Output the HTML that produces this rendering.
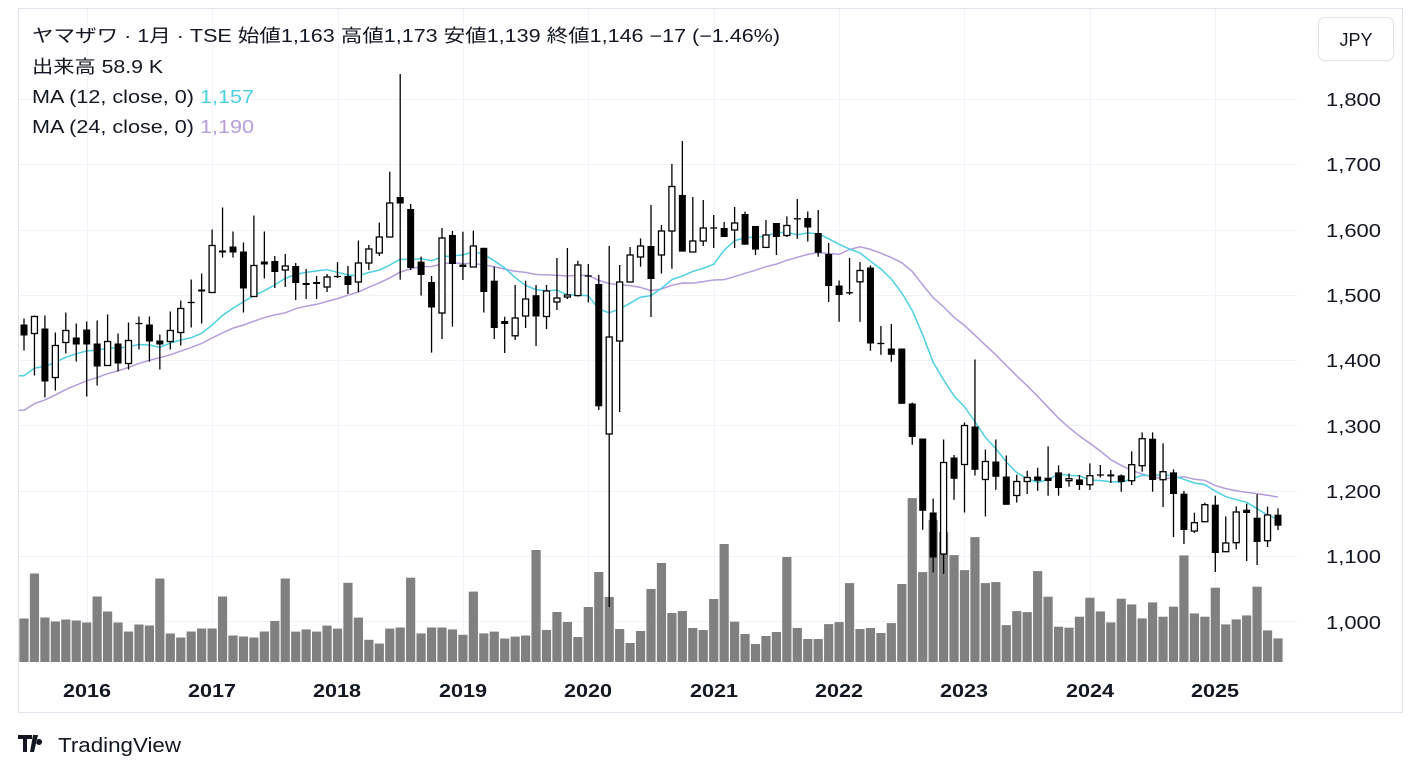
<!DOCTYPE html>
<html><head><meta charset="utf-8"><style>
body{margin:0;background:#fff;width:1420px;height:774px;overflow:hidden;font-family:"Liberation Sans","Noto Sans CJK JP",sans-serif;}
svg{position:absolute;left:0;top:0}
.t{font-family:"Liberation Sans","Noto Sans CJK JP",sans-serif;fill:#131722;white-space:pre}
</style></head><body>
<svg id="s" width="1420" height="774" viewBox="0 0 1420 774" xmlns="http://www.w3.org/2000/svg">
<rect x="18.5" y="8.5" width="1384" height="704" fill="#fff" stroke="#e0e3eb"/>
<g id="grid" stroke="#f0f3fa" stroke-width="1"></g>
<g id="vol"></g>
<g id="ma"></g>
<g id="cd"></g>
<g class="t" font-size="18" text-anchor="end" lengthAdjust="spacingAndGlyphs">
<text x="1381" y="106" textLength="55" lengthAdjust="spacingAndGlyphs">1,800</text><text x="1381" y="171" textLength="55" lengthAdjust="spacingAndGlyphs">1,700</text><text x="1381" y="237" textLength="55" lengthAdjust="spacingAndGlyphs">1,600</text><text x="1381" y="302" textLength="55" lengthAdjust="spacingAndGlyphs">1,500</text><text x="1381" y="367" textLength="55" lengthAdjust="spacingAndGlyphs">1,400</text><text x="1381" y="433" textLength="55" lengthAdjust="spacingAndGlyphs">1,300</text><text x="1381" y="498" textLength="55" lengthAdjust="spacingAndGlyphs">1,200</text><text x="1381" y="563" textLength="55" lengthAdjust="spacingAndGlyphs">1,100</text><text x="1381" y="629" textLength="55" lengthAdjust="spacingAndGlyphs">1,000</text>
</g>
<g class="t" font-size="18" font-weight="bold" text-anchor="middle">
<text x="87" y="697" textLength="48" lengthAdjust="spacingAndGlyphs">2016</text><text x="212" y="697" textLength="48" lengthAdjust="spacingAndGlyphs">2017</text><text x="337" y="697" textLength="48" lengthAdjust="spacingAndGlyphs">2018</text><text x="463" y="697" textLength="48" lengthAdjust="spacingAndGlyphs">2019</text><text x="588" y="697" textLength="48" lengthAdjust="spacingAndGlyphs">2020</text><text x="714" y="697" textLength="48" lengthAdjust="spacingAndGlyphs">2021</text><text x="839" y="697" textLength="48" lengthAdjust="spacingAndGlyphs">2022</text><text x="964" y="697" textLength="48" lengthAdjust="spacingAndGlyphs">2023</text><text x="1090" y="697" textLength="48" lengthAdjust="spacingAndGlyphs">2024</text><text x="1215" y="697" textLength="48" lengthAdjust="spacingAndGlyphs">2025</text>
</g>
<rect x="1318.5" y="17.5" width="75" height="43" rx="6" fill="#fff" stroke="#e0e3eb"/>
<text class="t" x="1356" y="46" font-size="18" text-anchor="middle">JPY</text>
<g class="t" font-size="18">
<text x="32" y="42" textLength="748" lengthAdjust="spacingAndGlyphs">ヤマザワ · 1月 · TSE  始値1,163  高値1,173  安値1,139  終値1,146  −17 (−1.46%)</text>
<text x="32" y="73" textLength="131" lengthAdjust="spacingAndGlyphs">出来高  58.9 K</text>
<text x="32" y="103" textLength="222" lengthAdjust="spacingAndGlyphs">MA (12, close, 0)  <tspan fill="#4dd0e1">1,157</tspan></text>
<text x="32" y="133" textLength="222" lengthAdjust="spacingAndGlyphs">MA (24, close, 0)  <tspan fill="#b39ddb">1,190</tspan></text>
</g>
<g transform="translate(18,735)">
<path d="M0 0h14v4h-5v13h-4v-13h-5z M15 0h5l-4 17h-4z M21 4a3 3 0 1 0 0.1 0z" fill="#131722"/>
<text class="t" x="40" y="17" font-size="20" textLength="123" lengthAdjust="spacingAndGlyphs">TradingView</text>
</g>
</svg>
<script>
const D=[
['f',326,337,320,352,618.5],['h',318,335,317,377,573.5],['f',330,383,317,399,617.5],['h',347,379,334,392,621.5],['h',332,344,314,355,619.5],['f',339,346,325,363,620.5],['f',331,346,323,398,622.5],['f',345,368,322,387,596.5],['h',343,367,316,367,611.5],['f',345,365,335,373,622.5],['h',342,365,324,371,631.5],['c',325,325,318,351,624.5],['f',326,343,318,363,625.5],['f',342,346,336,371,578.5],['h',332,343,313,351,633.5],['h',310,334,302,347,637.5],['c',304,304,281,329,631.5],['f',291,293,275,325,628.5],['h',247,294,231,294,628.5],['f',252,254,209,259,596.5],['f',248,254,233,259,635.5],['f',253,290,244,314,636.5],['h',267,298,217,298,637.5],['f',263,266,233,280,631.5],
['f',261,272,256,288,621],['h',266,270,254,287,578.5],['f',266,283,263,300,631.6],['f',283,285,269,299,629.4],['f',282,284,276,299,631.6],['h',277,287,274,292,625.6],['c',276.5,276.5,262,278,628.6],['f',276,285,266,294,582.8],['h',263,282,240.5,292,617.6],['h',249,263,245,270,639.8],['h',237,253,222.6,256,643.6],['h',203,237,171.7,237,628.6],['f',197,203.5,74,279.6,627.5],['f',209,268,204,270,577.7],['f',261.6,275,256.6,295.6,633.4],['f',282,307.5,276,352.6,627.5],['h',238,313,228,339,627.5],['f',235,264,231,326.6,629.4],['f',264.6,267,231.7,280,634.8],['h',246,267,230.6,267,591.6],['f',247.8,292,247.8,312.5,633.4],['f',280.7,328,266.6,339,631.6],['f',321,324,316.7,353,638.5],['h',318,335.8,285,340,636.6],['h',299,316,280.7,328,635.5],
['f',295.2,316.5,285,346,550],['h',291,316.5,285,329,630],['h',298,302,258,310,612],['h',295,297,248,299,622],['h',265,295.6,260.8,296.6,637],['c',276,276,264,302.4,607],['f',284,406.3,275,410,572],['h',337,434,246,607,597],['h',282,341,265,412,629],['h',255,282,247,282,643],['h',246,257,238.5,266.7,631],['f',246,279,205,317,589],['h',231,255,225,273.5,563],['h',186.5,231,164,268.7,613],['f',195,251.6,141,251.6,611],['h',241,252,197,252,628],['h',228,241,200,246,630],['c',228,228,215,248,599],['f',228,237,222,237,544],['h',223,230,207,248,621.7],['f',214,244.7,211.6,244.7,634],['f',226,249.6,226,255,644],['h',235,247.4,220,247,636],['f',223,237,223,255,632],['h',225.5,235.5,216.5,237,557],
['c',218.8,218.8,199,238.8,628],['f',218,227.5,211.5,241.5,639],['f',233,252.8,210,256.8,639],['f',254,286,243,302,624.1],['f',285.5,295,280.5,321.8,622.1],['c',292.8,292.8,258,295,583.1],['h',270.5,281.8,262,321.8,629],['f',267.5,343.5,265.5,350.8,628],['c',343.5,343.5,326,354.8,633],['f',348.5,354.8,324,361.8,623.1],['f',348.5,403.8,348.5,403.8,584],['f',403.5,437,402.5,444.8,498.1],['f',438.5,510.8,438.5,529.8,572.1],['f',512.5,557.5,498.5,572.5,520],['h',462.5,554,439.5,574,532.1],['f',457.5,478.8,455,499.8,555.1],['h',425.5,464.5,422.5,512.5,570.1],['f',426.5,469.8,359.5,475.5,537.1],['h',461.5,479.5,449.5,516.5,583.1],['f',461.5,476.8,439.5,489.8,582.1],['f',476.5,504.8,455.5,504.8,625.1],['h',481.5,495.5,474.8,502.5,611.1],['h',477.5,481.5,470.8,494,612.1],['f',476.5,480.8,467.8,490.8,571.1],
['f',477.7,481,446.4,495.7,596.7],['f',472.4,488,465.4,495.7,626.7],['h',478.7,480.7,473.4,486.7,627.7],['f',479.4,485,475,490,616.7],['h',475.7,484.7,463.4,490,597.7],['c',475,475,465,477.4,611.4],['f',474.4,476.4,470,483,622.4],['f',475.4,482,474.4,491.7,598.7],['h',464.7,480.7,451.4,485,604.4],['h',438.7,465.7,432.4,471.7,618.4],['f',438.7,480,432.4,491.7,602.4],['h',471.7,479.7,443.4,507,616.7],['f',472.4,494,469.4,537,606.7],['f',493.7,530,491,544,555.4],['h',522.7,531,512.7,533,613.4],['h',504.7,521.7,502.7,521.7,616.7],['f',504.7,553,495.7,572,587.7],['h',543,551.7,516.4,551.7,624.4],['h',512,542.7,506.4,549.4,619.4],['f',509.7,513,503.7,561,615.4],['f',517.7,542,494.4,565,586.7],['h',515,540.7,506.7,547,630.4],['f',514.7,525.7,508.4,530,638.4]
];
for(let i=0;i<24;i++){for(let k=1;k<5;k++)D[i][k]-=1.5;}
const NS='http://www.w3.org/2000/svg';
function el(p,t,a){const e=document.createElementNS(NS,t);for(const k in a)e.setAttribute(k,a[k]);p.appendChild(e);return e;}
const G=document.getElementById('grid'),V=document.getElementById('vol'),C=document.getElementById('cd'),M=document.getElementById('ma');
for(let p=1000;p<=1800;p+=100){const y=Math.round(99+(1800-p)*0.6529)+0.5;el(G,'line',{x1:19,x2:1297,y1:y,y2:y});}
[6,18,30,42,54,66,78,90,102,114].forEach(i=>{const x=Math.round(24+i*10.45)+0.5;el(G,'line',{x1:x,x2:x,y1:9,y2:662});});
const X=i=>24+i*10.45;
D.forEach((d,i)=>{const x=X(i);el(V,'rect',{x:x-4.6,y:d[5],width:9.2,height:662-d[5],fill:'#808080'});});
D.forEach((d,i)=>{const x=X(i);
 el(C,'line',{x1:x,x2:x,y1:d[3],y2:d[4],stroke:'#000','stroke-width':1.3});
 if(d[0]=='c'){el(C,'line',{x1:x-3.5,x2:x+3.5,y1:d[1],y2:d[1],stroke:'#000','stroke-width':1.3});}
 else if(d[0]=='f'){el(C,'rect',{x:x-3.5,y:d[1],width:7,height:Math.max(d[2]-d[1],1.5),fill:'#000'});}
 else{el(C,'rect',{x:x-3,y:d[1],width:6,height:Math.max(d[2]-d[1],1),fill:'#fff',stroke:'#000','stroke-width':1.3});}
});
const cl=D.map(d=>d[0]=='h'?d[1]:d[2]);
const pad=[];for(let k=0;k<23;k++)pad.push(476-k*(125/22));
const all=pad.concat(cl);
function ma(n,col){let pts=[];for(let i=0;i<cl.length;i++){const j=i+23;let s=0;for(let k=j-n+1;k<=j;k++)s+=all[k];pts.push(X(i).toFixed(1)+','+(s/n).toFixed(1));}
 pts.unshift('19,'+pts[0].split(',')[1]);
 el(M,'polyline',{points:pts.join(' '),fill:'none',stroke:col,'stroke-width':1.5});}
ma(24,'#b39ddb');ma(12,'#4dd0e1');
</script>
</body></html>
